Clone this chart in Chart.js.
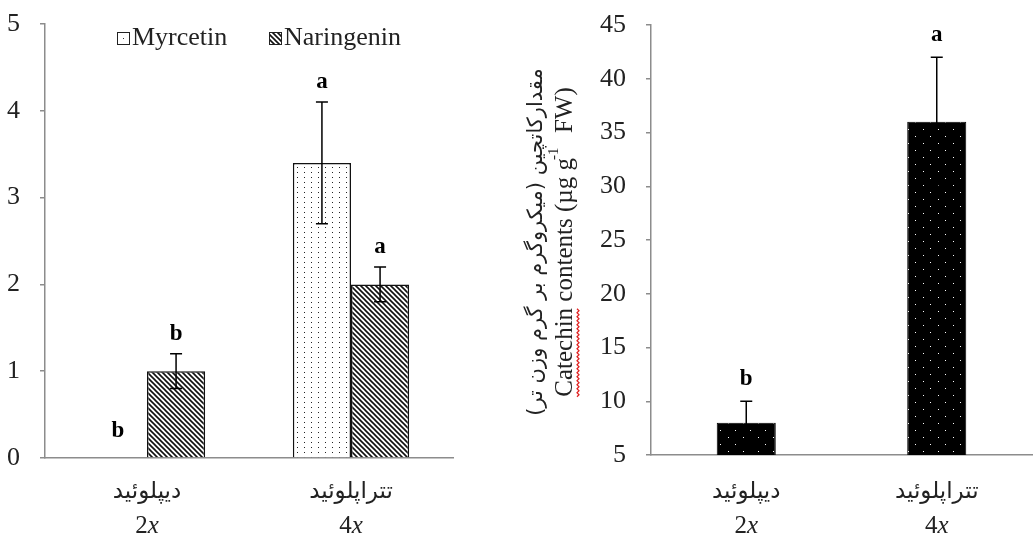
<!DOCTYPE html>
<html>
<head>
<meta charset="utf-8">
<script src="https://cdn.jsdelivr.net/npm/chart.js@4/dist/chart.umd.min.js"></script>
<style>
body{margin:0;background:#fff;width:1035px;height:539px;overflow:hidden;position:relative}
#left{position:absolute;left:0;top:0}
#right{position:absolute;left:500px;top:0}
</style>
</head>
<body>
<canvas id="left" width="470" height="539"></canvas>
<canvas id="right" width="535" height="539"></canvas>
<script>
// data
const groupsFa=['دیپلوئید','تتراپلوئید'];
const ploidy=['2','4'];
const myrcetin=[0,3.4];
const myrcetinErr=[0,0.7];
const myrcetinLetters=['b','a'];
const naringenin=[1,2];
const naringeninErr=[0.2,0.2];
const naringeninLetters=['b','a'];
const catechin=[8,36];
const catechinErr=[2,6];
const catechinLetters=['b','a'];
const leftRange=[0,5,1];
const rightRange=[5,45,5];

const F="'Liberation Serif', 'DejaVu Serif', serif";
const FA="'DejaVu Sans', 'Liberation Serif', serif";
const AX='#8c8c8c';

function pat(w,h,draw){
  const c=document.createElement('canvas');c.width=w;c.height=h;
  const x=c.getContext('2d');draw(x,w,h);
  return x.createPattern(c,'repeat');
}
const dotPat=pat(7,5,(x,w,h)=>{x.fillStyle='#fff';x.fillRect(0,0,w,h);x.fillStyle='#222';x.fillRect(3,2,1,1);});
const hatchPat=pat(5,5,(x,w,h)=>{
  x.fillStyle='#fff';x.fillRect(0,0,w,h);
  x.strokeStyle='#111';x.lineWidth=1.6;x.beginPath();
  x.moveTo(-1,-1);x.lineTo(6,6);x.moveTo(-1,4);x.lineTo(1,6);x.moveTo(4,-1);x.lineTo(6,1);x.stroke();
});
const catPat=pat(15,14,(x,w,h)=>{
  x.fillStyle='#000';x.fillRect(0,0,w,h);x.fillStyle='#fff';
  x.fillRect(3,3,1,1);x.fillRect(10,10,1,1);
});

function errLetters(chart,errs,letters,off){
  const ctx=chart.ctx,ys=chart.scales.y;
  ctx.save();
  errs.forEach((err,di)=>{
    const meta=chart.getDatasetMeta(di);
    const vals=chart.data.datasets[di].data;
    meta.data.forEach((el,i)=>{
      const v=vals[i],e=err[i];
      const top=ys.getPixelForValue(v+e),bot=ys.getPixelForValue(v-e);
      if(e>0){
        ctx.strokeStyle='#000';ctx.lineWidth=1.5;ctx.beginPath();
        ctx.moveTo(el.x,top);ctx.lineTo(el.x,bot);
        ctx.moveTo(el.x-6,top);ctx.lineTo(el.x+6,top);
        ctx.moveTo(el.x-6,bot);ctx.lineTo(el.x+6,bot);
        ctx.stroke();
      }
      ctx.fillStyle='#000';ctx.font='bold 23px '+F;ctx.textAlign='center';ctx.textBaseline='middle';
      ctx.fillText(letters[di][i],el.x,top-(e>0?off:off+7));
    });
  });
  ctx.restore();
}

function catLabels(chart){
  const ctx=chart.ctx,xs=chart.scales.x;
  ctx.save();ctx.fillStyle='#222';ctx.textBaseline='middle';ctx.textAlign='center';
  groupsFa.forEach((g,i)=>{
    const x=xs.getPixelForValue(i);
    ctx.font='23px '+FA;
    ctx.direction='rtl';ctx.fillText(g,x,492);ctx.direction='ltr';
    ctx.font='25px '+F;const w1=ctx.measureText(ploidy[i]).width;
    ctx.font='italic 25px '+F;const w2=ctx.measureText('x').width;
    ctx.textAlign='left';
    ctx.font='25px '+F;ctx.fillText(ploidy[i],x-(w1+w2)/2,526);
    ctx.font='italic 25px '+F;ctx.fillText('x',x-(w1+w2)/2+w1,526);
    ctx.textAlign='center';
  });
  ctx.restore();
}

function yAxis(r,w){
  return {min:r[0],max:r[1],
    ticks:{stepSize:r[2],padding:20,color:'#222',font:{family:F,size:26}},
    grid:{display:true,drawOnChartArea:false,drawTicks:true,tickLength:5,color:AX,lineWidth:1.5},
    border:{color:AX,width:1.5},
    afterFit(s){s.width=w;s.paddingTop=0;s.paddingBottom=0;}};
}
function xAxis(){
  return {grid:{display:true,drawOnChartArea:false,drawTicks:false},border:{color:AX,width:1.5},
    ticks:{display:false},afterFit(s){s.height=0;s.paddingLeft=0;s.paddingRight=0;}};
}

new Chart(document.getElementById('left'),{
  type:'bar',
  data:{labels:groupsFa,datasets:[
    {label:'Myrcetin',data:myrcetin,backgroundColor:dotPat,borderColor:'#111',borderWidth:1.5},
    {label:'Naringenin',data:naringenin,backgroundColor:hatchPat,borderColor:'#111',borderWidth:1.5}
  ]},
  options:{responsive:false,animation:false,
    layout:{padding:{top:24,right:17,bottom:81,left:0}},
    datasets:{bar:{categoryPercentage:0.57,barPercentage:1}},
    plugins:{legend:{display:false},tooltip:{enabled:false}},
    scales:{x:xAxis(),y:yAxis(leftRange,45)}},
  plugins:[{id:'extras',
    afterDatasetsDraw(chart){errLetters(chart,[myrcetinErr,naringeninErr],[myrcetinLetters,naringeninLetters],20);},
    afterDraw(chart){
      catLabels(chart);
      const ctx=chart.ctx;ctx.save();
      const items=[['Myrcetin',dotPat,117],['Naringenin',hatchPat,269]];
      items.forEach(([t,p,x])=>{
        ctx.fillStyle='#fff';ctx.fillRect(x,32,12,12);
        if(p===hatchPat){ctx.fillStyle=p;ctx.fillRect(x,32,12,12);}else{ctx.fillStyle='#333';ctx.fillRect(x+6,38,1,1);}
        ctx.strokeStyle='#222';ctx.lineWidth=1;ctx.strokeRect(x+0.5,32.5,12,12);
        ctx.fillStyle='#222';ctx.font='26px '+F;ctx.textAlign='left';ctx.textBaseline='middle';
        ctx.fillText(t,x+15,38);
      });
      ctx.restore();
    }}]
});

new Chart(document.getElementById('right'),{
  type:'bar',
  data:{labels:groupsFa,datasets:[
    {label:'Catechin',data:catechin,backgroundColor:catPat,borderColor:'#000',borderWidth:1}
  ]},
  options:{responsive:false,animation:false,
    layout:{padding:{top:25,right:3,bottom:84,left:0}},
    datasets:{bar:{categoryPercentage:0.31,barPercentage:1}},
    plugins:{legend:{display:false},tooltip:{enabled:false}},
    scales:{x:xAxis(),y:yAxis(rightRange,151)}},
  plugins:[{id:'extras',
    afterDatasetsDraw(chart){errLetters(chart,[catechinErr],[catechinLetters],22);},
    afterDraw(chart){
      catLabels(chart);
      const ctx=chart.ctx;ctx.save();
      // y title, two lines
      ctx.translate(37,242);ctx.rotate(-Math.PI/2);
      ctx.fillStyle='#222';ctx.textBaseline='middle';ctx.textAlign='center';
      ctx.font='21px '+FA;ctx.direction='rtl';
      ctx.fillText('مقدارکاتچین (میکروگرم بر گرم وزن تر)',0,0);
      ctx.direction='ltr';
      ctx.translate(0,28);
      const a='Catechin contents (µg g',sup='-1',b='  FW)';
      ctx.font='25px '+F;const wa=ctx.measureText(a).width,wb=ctx.measureText(b).width;
      ctx.font='15px '+F;const ws=ctx.measureText(sup).width;
      let x0=-(wa+ws+wb)/2;ctx.textAlign='left';
      ctx.font='25px '+F;ctx.fillText(a,x0,0);
      ctx.font='15px '+F;ctx.fillText(sup,x0+wa-2,-11);
      ctx.font='25px '+F;ctx.fillText(b,x0+wa+ws,0);
      // spell-check squiggle under "Catechin"
      const wc=ctx.measureText('Catechin').width;
      ctx.strokeStyle='#e02020';ctx.lineWidth=1.2;ctx.beginPath();
      for(let s=0;s<=wc;s+=2){ctx.lineTo(x0+s,12+((s/2)%2?2:0));}
      ctx.stroke();
      ctx.restore();
    }}]
});
</script>
</body>
</html>
